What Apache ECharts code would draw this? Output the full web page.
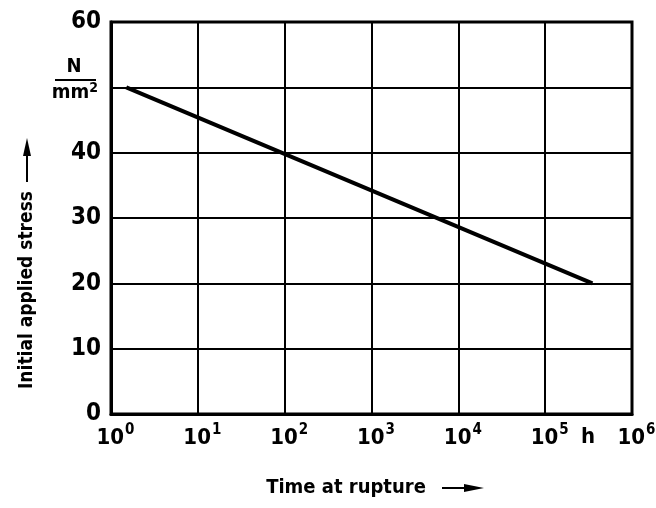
<!DOCTYPE html>
<html>
<head>
<meta charset="utf-8">
<script src="https://cdn.jsdelivr.net/npm/echarts@6/dist/echarts.min.js"></script>
<style>
html,body{margin:0;padding:0;background:#fff;}
#chart{width:656px;height:508px;}
</style>
</head>
<body>
<div id="chart"></div>
<script>
// stress line (time in h, stress in N/mm2)
var timeH = [1.5, 350000];
var stress = [50, 20];
var yTicks = [0, 10, 20, 30, 40, 60]; // 50 is left out, unit label sits there
var xExp = [0, 1, 2, 3, 4, 5, 6];

var FONT = '"DejaVu Sans Condensed", "DejaVu Sans", sans-serif';

var pts = [];
for (var i = 0; i < timeH.length; i++) {
	pts.push([timeH[i], stress[i]]);
}

var myChart = echarts.init(document.getElementById('chart'));
var option = {
	backgroundColor: '#fff',
	animation: false,
	grid: {   //plot frame
		left: 111,
		top: 22,
		right: 24,
		bottom: 94,
		outerBoundsMode: 'none',
		containLabel: false,
		show: true,
		borderColor: '#000',
		borderWidth: 3,
		backgroundColor: 'transparent'
	},
	xAxis: {
		type: 'log',
		logBase: 10,
		min: 1,
		max: 1000000,
		axisLine: { lineStyle: { color: '#000', width: 3 } },
		axisTick: { show: false },
		splitLine: { show: true, lineStyle: { color: '#000', width: 2 } },
		axisLabel: {
			margin: 9,
			color: '#000',
			fontFamily: FONT,
			formatter: function (v) {
				var e = Math.round(Math.log(v) / Math.LN10);
				if (xExp.indexOf(e) < 0) return '';
				return '{b|10}{s|' + e + '}';
			},
			rich: {
				b: { fontSize: 22, fontWeight: 'bold', fontFamily: FONT, color: '#000', verticalAlign: 'bottom', lineHeight: 26, padding: [0, 0, 0, 9] },
				s: { fontSize: 15, fontWeight: 'bold', fontFamily: FONT, color: '#000', verticalAlign: 'top', lineHeight: 26, padding: [0, 0, 0, 1] }
			}
		}
	},
	yAxis: {
		type: 'value',
		min: 0,
		max: 60,
		interval: 10,
		axisLine: { show: true, lineStyle: { color: '#000', width: 3 } },
		axisTick: { show: false },
		splitLine: { show: true, lineStyle: { color: '#000', width: 2 } },
		axisLabel: {
			margin: 10,
			color: '#000',
			fontSize: 24,
			fontWeight: 'bold',
			fontFamily: FONT,
			formatter: function (v) {
				return yTicks.indexOf(v) >= 0 ? String(v) : '';
			}
		}
	},
	series: [{
		type: 'line',
		data: pts,
		symbol: 'none',
		lineStyle: { color: '#000', width: 4 },
		z: 5
	}],
	graphic: [
		// unit N/mm2 at the 50 position
		{ type: 'text', x: 74, y: 67, style: { text: 'N', fontSize: 20, fontWeight: 'bold', fontFamily: FONT, fill: '#000', align: 'center', verticalAlign: 'middle' } },
		{ type: 'line', shape: { x1: 55, y1: 80, x2: 96, y2: 80 }, style: { stroke: '#000', lineWidth: 2 } },
		{ type: 'text', x: 75, y: 92, style: { text: '{m|mm}{s|2}', align: 'center', verticalAlign: 'middle', rich: {
			m: { fontSize: 20, fontWeight: 'bold', fontFamily: FONT, fill: '#000', verticalAlign: 'bottom', lineHeight: 22 },
			s: { fontSize: 14, fontWeight: 'bold', fontFamily: FONT, fill: '#000', verticalAlign: 'top', lineHeight: 22 }
		} } },
		// hour unit next to 10^5
		{ type: 'text', x: 588, y: 437, style: { text: 'h', fontSize: 22, fontWeight: 'bold', fontFamily: FONT, fill: '#000', align: 'center', verticalAlign: 'middle' } },
		// x axis title with arrow
		{ type: 'text', x: 346, y: 488, style: { text: 'Time at rupture', fontSize: 20, fontWeight: 'bold', fontFamily: FONT, fill: '#000', align: 'center', verticalAlign: 'middle' } },
		{ type: 'line', shape: { x1: 442, y1: 488, x2: 470, y2: 488 }, style: { stroke: '#000', lineWidth: 2 } },
		{ type: 'polygon', shape: { points: [[464, 484], [484, 488], [464, 492]] }, style: { fill: '#000' } },
		// y axis title with arrow (rotated)
		{ type: 'text', x: 27, y: 290, rotation: Math.PI / 2, style: { text: 'Initial applied stress', fontSize: 19, fontWeight: 'bold', fontFamily: FONT, fill: '#000', align: 'center', verticalAlign: 'middle' } },
		{ type: 'line', shape: { x1: 27, y1: 182, x2: 27, y2: 150 }, style: { stroke: '#000', lineWidth: 2 } },
		{ type: 'polygon', shape: { points: [[23, 156], [27, 138], [31, 156]] }, style: { fill: '#000' } }
	]
};
myChart.setOption(option);
</script>
</body>
</html>
